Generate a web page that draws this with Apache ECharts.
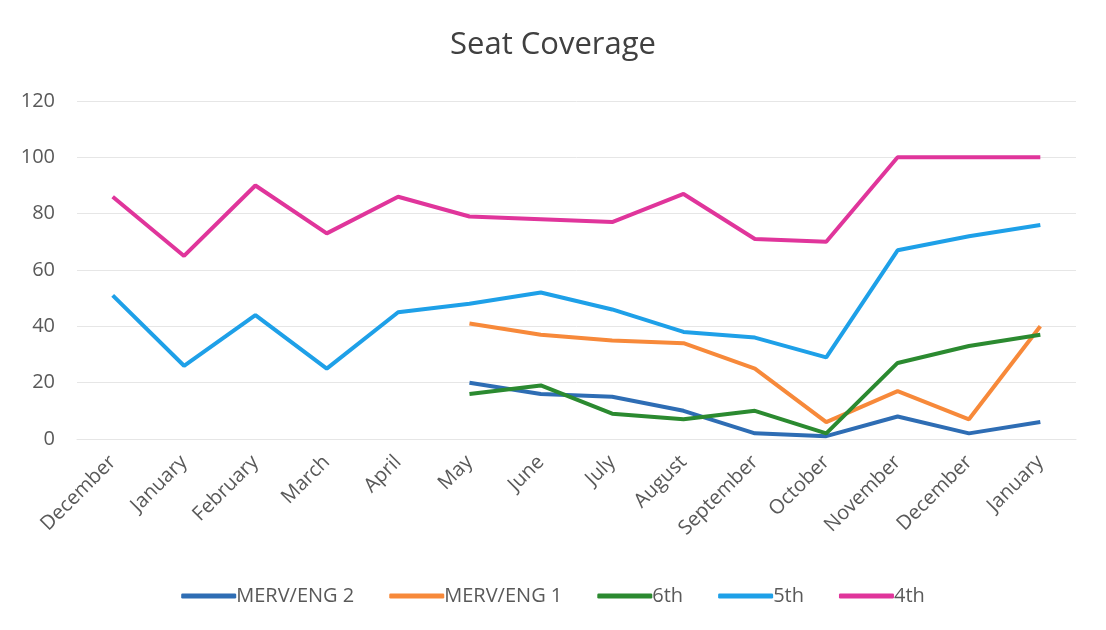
<!DOCTYPE html>
<html>
<head>
<meta charset="utf-8">
<script src="https://cdn.jsdelivr.net/npm/echarts@6/dist/echarts.min.js"></script>
<style>
  html, body { margin: 0; padding: 0; background: #fff; }
  #main { width: 1106px; height: 630px; }
</style>
</head>
<body>
<div id="main"></div>
<script>
// month labels along the bottom
const months = ['December', 'January', 'February', 'March', 'April', 'May', 'June',
  'July', 'August', 'September', 'October', 'November', 'December', 'January'];

// series values (null = not measured yet)
const merv2 = [null, null, null, null, null, 20, 16, 15, 10, 2, 1, 8, 2, 6];
const merv1 = [null, null, null, null, null, 41, 37, 35, 34, 25, 6, 17, 7, 40];
const sixth = [null, null, null, null, null, 16, 19, 9, 7, 10, 2, 27, 33, 37];
const fifth = [51, 26, 44, 25, 45, 48, 52, 46, 38, 36, 29, 67, 72, 76];
const fourth = [86, 65, 90, 73, 86, 79, 78, 77, 87, 71, 70, 100, 100, 100];

const seriesNames = ['MERV/ENG 2', 'MERV/ENG 1', '6th', '5th', '4th'];
const seriesData = [merv2, merv1, sixth, fifth, fourth];
const colors = ['#2e6db4', '#f7893a', '#2b8a30', '#1ea0e8', '#e0359b'];

const FONT = '"Open Sans", Lato, sans-serif';

const chart = echarts.init(document.getElementById('main'));

const option = {
  backgroundColor: '#fff',
  color: colors,
  title: {
    text: 'Seat Coverage',
    left: 'center',
    top: 25,
    textStyle: { fontFamily: FONT, fontSize: 31, fontWeight: 'normal', color: '#404040' }
  },
  legend: {
    bottom: 19,
    left: 'center',
    itemWidth: 55,
    itemHeight: 5,
    itemGap: 35,
    icon: 'roundRect',
    textStyle: { fontFamily: FONT, fontSize: 20, color: '#595959', padding: [0, 0, 0, -5] },
    data: seriesNames
  },
  grid: { left: 77, right: 30, top: 101, bottom: 191 },
  xAxis: {
    type: 'category',
    data: months,
    boundaryGap: true,
    axisLine: { show: true, lineStyle: { color: '#e6e6e6' } },
    axisTick: { show: false },
    axisLabel: {
      rotate: 45,
      margin: 20,
      interval: 0,
      fontFamily: FONT,
      fontSize: 20,
      color: '#595959'
    }
  },
  yAxis: {
    type: 'value',
    min: 0,
    max: 120,
    interval: 20,
    axisLine: { show: false },
    axisTick: { show: false },
    axisLabel: { fontFamily: FONT, fontSize: 20, color: '#595959', margin: 22 },
    splitLine: { lineStyle: { color: '#e6e6e6' } }
  },
  series: seriesNames.map(function (name, i) {
    return {
      name: name,
      type: 'line',
      data: seriesData[i],
      showSymbol: false,
      symbol: 'none',
      lineStyle: { width: 4, color: colors[i] },
      itemStyle: { color: colors[i] },
      animation: false
    };
  })
};

chart.setOption(option);
</script>
</body>
</html>
